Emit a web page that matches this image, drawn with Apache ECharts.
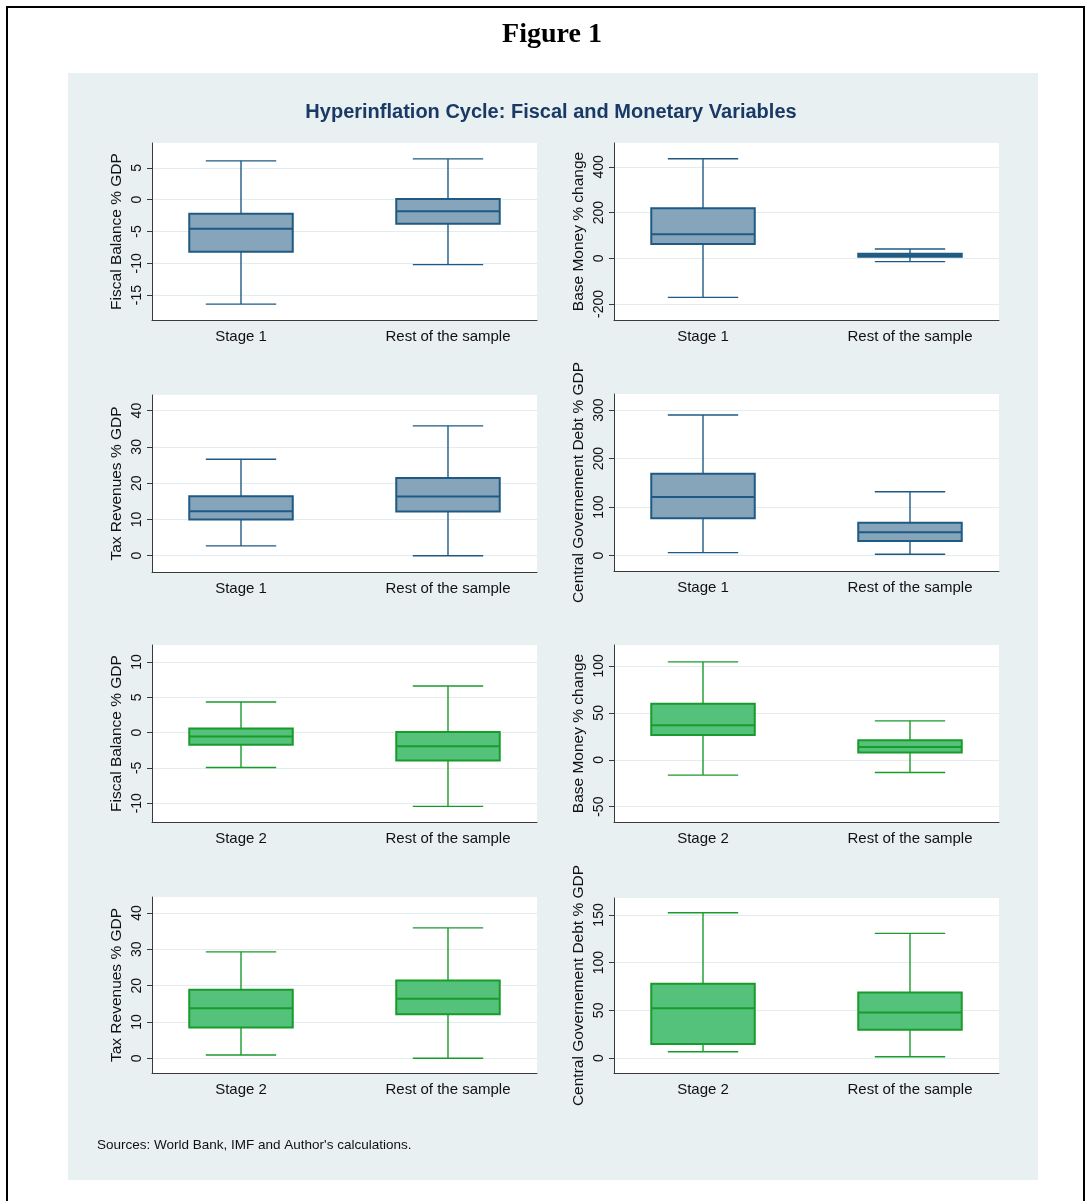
<!DOCTYPE html>
<html>
<head>
<meta charset="utf-8">
<title>Hyperinflation Cycle: Fiscal and Monetary Variables</title>
<script src="https://cdn.jsdelivr.net/npm/echarts@6/dist/echarts.min.js"></script>
<style>
  html, body { margin: 0; padding: 0; background: #ffffff; }
  #page { position: relative; width: 1086px; height: 1201px; overflow: hidden; }
  #frame { position: absolute; left: 6px; top: 6px; width: 1075px; height: 1210px; border: 2px solid #000; }
  #panel { position: absolute; left: 68px; top: 73px; width: 970px; height: 1107px; background: #e8f0f2; }
  #chart { position: absolute; left: 0; top: 0; width: 1086px; height: 1201px; }
</style>
</head>
<body>
<div id="page">
  <div id="frame"></div>
  <div id="panel"></div>
  <div id="chart"></div>
</div>
<script>
// Categories
const catsStage1 = ["Stage 1", "Rest of the sample"];
const catsStage2 = ["Stage 2", "Rest of the sample"];

// Box summaries: [lower whisker, Q1, median, Q3, upper whisker]
const fiscalStage1 = [[-16.4, -8.2, -4.55, -2.2, 6.1], [-10.2, -3.8, -1.8, 0.1, 6.4]];
const moneyStage1  = [[-171, 62.6, 105, 219, 435], [-14.6, 7, 13, 20, 40.7]];
const taxStage1    = [[2.7, 10.0, 12.25, 16.4, 26.6], [0, 12.2, 16.3, 21.4, 35.8]];
const debtStage1   = [[6.2, 77, 121, 168.6, 289.8], [2.9, 30.3, 48.2, 68, 131.5]];
const fiscalStage2 = [[-4.94, -1.74, -0.56, 0.57, 4.34], [-10.45, -3.95, -1.93, 0.1, 6.6]];
const moneyStage2  = [[-16.3, 26.3, 36.9, 59.6, 104.3], [-13.5, 7.8, 13.5, 20.9, 41.5]];
const taxStage2    = [[0.9, 8.45, 13.8, 18.9, 29.3], [0, 12.1, 16.4, 21.4, 35.9]];
const debtStage2   = [[6.6, 14.7, 52.1, 77.9, 152.4], [1.4, 29.7, 47.8, 68.8, 130.7]];

// Y tick labels
const ticksFiscal1 = [-15, -10, -5, 0, 5];
const ticksMoney1  = [-200, 0, 200, 400];
const ticksTax     = [0, 10, 20, 30, 40];
const ticksDebt1   = [0, 100, 200, 300];
const ticksFiscal2 = [-10, -5, 0, 5, 10];
const ticksMoney2  = [-50, 0, 50, 100];
const ticksDebt2   = [0, 50, 100, 150];

// Axis titles
const nameFiscal = "Fiscal Balance % GDP";
const nameMoney  = "Base Money % change";
const nameTax    = "Tax Revenues % GDP";
const nameDebt   = "Central Governement Debt % GDP";

const NAVY = { stroke: "#1f5a84", fill: "#87a5ba" };
const GREEN = { stroke: "#199b2b", fill: "#55c27b" };

const panels = [
  { cats: catsStage1, vals: fiscalStage1, ticks: ticksFiscal1, name: nameFiscal, min: -18.9, max: 8.9, col: NAVY, left: 152, top: 143, h: 177 },
  { cats: catsStage1, vals: moneyStage1,  ticks: ticksMoney1,  name: nameMoney,  min: -270, max: 504, col: NAVY, left: 614, top: 143, h: 177 },
  { cats: catsStage1, vals: taxStage1,    ticks: ticksTax,     name: nameTax,    min: -4.5, max: 44.3, col: NAVY, left: 152, top: 395, h: 177 },
  { cats: catsStage1, vals: debtStage1,   ticks: ticksDebt1,   name: nameDebt,   min: -31.6, max: 333, col: NAVY, left: 614, top: 394, h: 177 },
  { cats: catsStage2, vals: fiscalStage2, ticks: ticksFiscal2, name: nameFiscal, min: -12.66, max: 12.4, col: GREEN, left: 152, top: 645, h: 177 },
  { cats: catsStage2, vals: moneyStage2,  ticks: ticksMoney2,  name: nameMoney,  min: -66.3, max: 122.3, col: GREEN, left: 614, top: 645, h: 177 },
  { cats: catsStage2, vals: taxStage2,    ticks: ticksTax,     name: nameTax,    min: -4.05, max: 44.4, col: GREEN, left: 152, top: 897, h: 176 },
  { cats: catsStage2, vals: debtStage2,   ticks: ticksDebt2,   name: nameDebt,   min: -15.7, max: 167.8, col: GREEN, left: 614, top: 898, h: 175 }
];

const FONT = "Liberation Sans, Arial, Helvetica, sans-serif";
const AXIS_COLOR = "#3a3a3a";
const GRID_COLOR = "#e3ecef";

// Stata-style box: narrower whisker caps than the box itself
function boxRenderer(col) {
  return function (params, api) {
    const x = api.value(0);
    const lo = api.value(1), q1 = api.value(2), med = api.value(3), q3 = api.value(4), hi = api.value(5);
    const unit = api.size([1, 0])[0];
    const bw = unit * 0.5, cw = unit * 0.34;
    const pLo = api.coord([x, lo]), pQ1 = api.coord([x, q1]), pMed = api.coord([x, med]);
    const pQ3 = api.coord([x, q3]), pHi = api.coord([x, hi]);
    const cx = pMed[0];
    const thin = { stroke: col.stroke, lineWidth: 1.4, fill: null };
    const thick = { stroke: col.stroke, lineWidth: 2, fill: null };
    return {
      type: "group",
      children: [
        { type: "line", shape: { x1: cx, y1: pQ3[1], x2: cx, y2: pHi[1] }, style: thin },
        { type: "line", shape: { x1: cx, y1: pQ1[1], x2: cx, y2: pLo[1] }, style: thin },
        { type: "line", shape: { x1: cx - cw / 2, y1: pHi[1], x2: cx + cw / 2, y2: pHi[1] }, style: thin },
        { type: "line", shape: { x1: cx - cw / 2, y1: pLo[1], x2: cx + cw / 2, y2: pLo[1] }, style: thin },
        { type: "rect", shape: { x: cx - bw / 2, y: pQ3[1], width: bw, height: pQ1[1] - pQ3[1] },
          style: { fill: col.fill, stroke: col.stroke, lineWidth: 2 } },
        { type: "line", shape: { x1: cx - bw / 2, y1: pMed[1], x2: cx + bw / 2, y2: pMed[1] }, style: thick }
      ]
    };
  };
}

const grid = [], xAxis = [], yAxis = [], series = [];
panels.forEach(function (p, i) {
  grid.push({ left: p.left, top: p.top, width: 385, height: p.h, show: true, backgroundColor: "#ffffff", borderWidth: 0, containLabel: false });
  xAxis.push({
    type: "value", gridIndex: i, min: -0.43, max: 1.43,
    axisLine: { show: true, onZero: false, lineStyle: { color: AXIS_COLOR, width: 1 } },
    axisTick: { show: false },
    splitLine: { show: false },
    axisLabel: {
      customValues: [0, 1], margin: 9, color: "#111", fontFamily: FONT, fontSize: 15,
      formatter: (function (cats) { return function (v) { return cats[Math.round(v)]; }; })(p.cats)
    }
  });
  yAxis.push({
    type: "value", gridIndex: i, min: p.min, max: p.max,
    name: p.name, nameLocation: "middle", nameGap: 27, nameRotate: 90,
    nameTextStyle: { color: "#111", fontFamily: FONT, fontSize: 15.5 },
    axisLine: { show: true, onZero: false, lineStyle: { color: AXIS_COLOR, width: 1 } },
    axisTick: { show: true, length: 5, customValues: p.ticks, lineStyle: { color: AXIS_COLOR } },
    splitLine: { show: true, lineStyle: { color: GRID_COLOR, width: 1.2 } },
    axisLabel: { customValues: p.ticks, rotate: 90, margin: 8, color: "#111", fontFamily: FONT, fontSize: 14 }
  });
  series.push({
    type: "custom", xAxisIndex: i, yAxisIndex: i,
    renderItem: boxRenderer(p.col),
    encode: { x: 0, y: [1, 2, 3, 4, 5] },
    data: p.vals.map(function (v, k) { return [k].concat(v); }),
    silent: true, animation: false
  });
});

const chart = echarts.init(document.getElementById("chart"), null, { renderer: "canvas" });
chart.setOption({
  backgroundColor: "transparent",
  animation: false,
  grid: grid, xAxis: xAxis, yAxis: yAxis, series: series,
  graphic: [
    { type: "text", x: 552, y: 35, style: { text: "Figure 1", font: "bold 28px 'Liberation Serif', 'Times New Roman', serif", fill: "#000", textAlign: "center", textVerticalAlign: "middle" } },
    { type: "text", x: 551, y: 112, style: { text: "Hyperinflation Cycle: Fiscal and Monetary Variables", font: "bold 20px 'Liberation Sans', Arial, sans-serif", fill: "#1a3a66", textAlign: "center", textVerticalAlign: "middle" } },
    { type: "text", x: 97, y: 1145, style: { text: "Sources: World Bank, IMF and Author's calculations.", font: "13.5px 'Liberation Sans', Arial, sans-serif", fill: "#111", textAlign: "left", textVerticalAlign: "middle" } }
  ]
});
</script>
</body>
</html>
